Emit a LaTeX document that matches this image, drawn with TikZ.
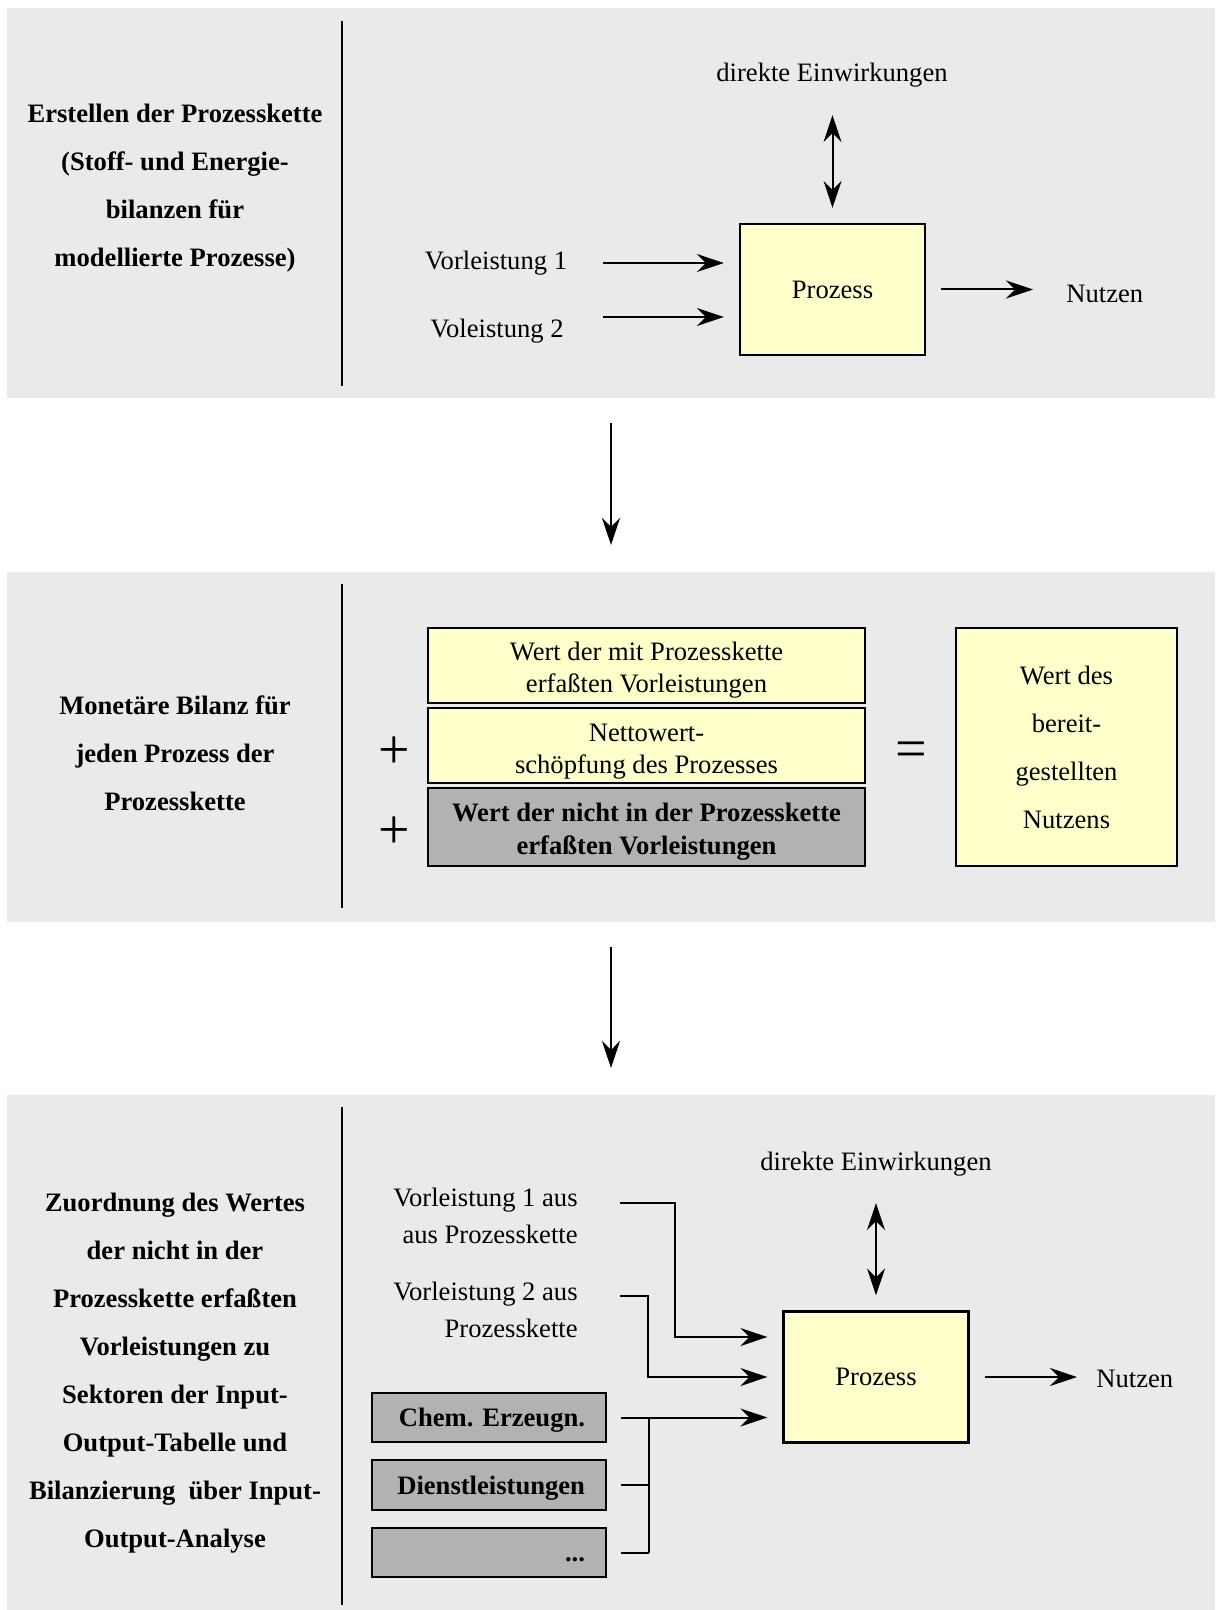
\documentclass[tikz,border=0pt]{standalone}
\usepackage{fontspec}
\setmainfont{Liberation Serif}
\usetikzlibrary{arrows.meta}
\frenchspacing
\definecolor{panelbg}{RGB}{234,234,234}
\definecolor{boxyellow}{RGB}{255,255,204}
\definecolor{boxgray}{RGB}{178,178,178}
% invisible rule that raises the first line of a box label
\newcommand\toppad[1]{\rule{0pt}{#1}}
\tikzset{
  >={Stealth[length=13.5pt,width=9pt,inset=4.5pt]},
  rule/.style={line width=1pt},
  conn/.style={line width=1pt},
  arr/.style={line width=1pt,->},
  dbl/.style={line width=1pt,<->},
  proc/.style={draw,line width=1.1pt,fill=boxyellow,minimum width=92.5pt,minimum height=65.5pt},
  stackbox/.style={draw,line width=1.1pt,minimum width=218.5pt,align=center},
  sector/.style={draw,line width=1.1pt,fill=boxgray,font=\bfseries\fontsize{13.3}{16}\selectfont,
    minimum height=24.5pt,text width=96pt,inner xsep=10.5pt,inner ysep=0pt,align=right,
    text height=10pt,text depth=1pt},
  title/.style={font=\bfseries\fontsize{13.3}{24}\selectfont,align=center},
  lbl/.style={anchor=base},
  sym/.style={font=\fontsize{28}{28}\selectfont},
}
\begin{document}
\begin{tikzpicture}[x=0.5pt,y=-0.5pt,every node/.style={inner sep=0pt,font=\fontsize{13.3}{16}\selectfont}]
\useasboundingbox (0,0) rectangle (1215,1610);
\fill[white] (0,0) rectangle (1215,1610);

% ---------- panel backgrounds and dividers
\fill[panelbg] (7,8) rectangle (1215,397.7);
\fill[panelbg] (7,571.7) rectangle (1215,921.7);
\fill[panelbg] (7,1095) rectangle (1215,1610);
\draw[rule] (342,21) -- (342,386);
\draw[rule] (342,584) -- (342,908);
\draw[rule] (342,1107) -- (342,1605);

% ---------- step 1: process chain
\node[title] (t1) at (175,188) {Erstellen der Prozesskette\\(Stoff- und Energie-\\bilanzen für\\modellierte Prozesse)};
\node[proc] (p1) at (832.5,289.5) {Prozess};
\node[lbl] (e1) at (832,82) {direkte Einwirkungen};
\node[lbl] (v11) at (496,270) {Vorleistung 1};
\node[lbl] (v12) at (497,337) {Voleistung 2};
\node[lbl,anchor=base west] (n1) at (1066,303) {Nutzen};
\coordinate (s11) at (603,263);
\coordinate (s12) at (603,317);
\draw[arr,shorten >=7.5pt] (s11) -- (s11 -| p1.west);
\draw[arr,shorten >=7.5pt] (s12) -- (s12 -| p1.west);
\draw[arr,shorten <=7.5pt,shorten >=16.5pt] (p1.east) -- (p1.east -| n1.west);
\draw[dbl,shorten <=13.5pt,shorten >=7.5pt] (p1.north |- e1.south) -- (p1.north);

% ---------- transition arrow 1
\coordinate (d1a) at (611,423);
\coordinate (d1b) at (611,545);
\draw[arr] (d1a) -- (d1b);

% ---------- step 2: monetary balance
\node[title] (t2) at (175,753) {Monetäre Bilanz für\\jeden Prozess der\\Prozesskette};
\node[stackbox,fill=boxyellow,minimum height=37.5pt] (b1) at (646.5,665.5) {\toppad{14pt}Wert der mit Prozesskette\\erfaßten Vorleistungen};
\node[stackbox,fill=boxyellow,minimum height=37.5pt] (b2) at (646.5,745.5) {\toppad{14.8pt}Nettowert-\\schöpfung des Prozesses};
\node[stackbox,fill=boxgray,minimum height=39pt,font=\bfseries\fontsize{13.3}{16.5}\selectfont] (b3) at (646.5,827) {\toppad{13.5pt}Wert der nicht in der Prozesskette\\erfaßten Vorleistungen};
\node[draw,line width=1.1pt,fill=boxyellow,minimum width=110.5pt,minimum height=119pt,align=center,
  font=\fontsize{13.3}{24}\selectfont] (r2) at (1066.5,747) {Wert des\\bereit-\\gestellten\\Nutzens};
\node[sym] (plus1) at (394,753) {+};
\node[sym] (plus2) at (394,833) {+};
\node[sym] (eq) at (911,755) {=};

% ---------- transition arrow 2
\coordinate (d2a) at (611,947);
\coordinate (d2b) at (611,1068);
\draw[arr] (d2a) -- (d2b);

% ---------- step 3: input-output allocation
\node[title] (t3) at (175,1373) {Zuordnung des Wertes\\der nicht in der\\Prozesskette erfaßten\\Vorleistungen zu\\Sektoren der Input-\\Output-Tabelle und\\Bilanzierung~ über Input-\\Output-Analyse};
\node[proc] (p3) at (876,1377) {Prozess};
\node[lbl] (e3) at (876,1170) {direkte Einwirkungen};
\node[lbl,anchor=base west] (n3) at (1096,1387) {Nutzen};
\node[anchor=east,align=right,font=\fontsize{13.3}{18.75}\selectfont] (v31) at (578,1216) {Vorleistung 1 aus\\aus Prozesskette};
\node[anchor=east,align=right,font=\fontsize{13.3}{18.75}\selectfont] (v32) at (578,1310) {Vorleistung 2 aus\\Prozesskette};
\node[sector] (g1) at (489,1417.5) {Chem. Erzeugn.};
\node[sector,minimum height=25pt] (g2) at (489,1485) {Dienstleistungen};
\node[sector] (g3) at (489,1552.5) {...};

\coordinate (c31) at (620,1203);
\coordinate (j31) at (675,1203);
\coordinate (c32) at (620,1296);
\coordinate (j32) at (648,1296);
\coordinate (c33) at ([xshift=7pt]g1.east);
\coordinate (j33) at ([xshift=21pt]g1.east);
\coordinate (c34) at ([xshift=7pt]g2.east);
\coordinate (j34) at ([xshift=21pt]g2.east);
\coordinate (c35) at ([xshift=7pt]g3.east);
\coordinate (j35) at ([xshift=21pt]g3.east);

\draw[arr,shorten >=7.5pt] (c31) -- (j31) |- ([yshift=20pt]p3.west);
\draw[arr,shorten >=7.5pt] (c32) -- (j32) |- (p3.west);
\draw[arr,shorten >=7.5pt] (c33) -- (c33 -| p3.west);
\draw[conn] (j33) -- (j35);
\draw[conn] (c34) -- (j34);
\draw[conn] (c35) -- (j35);
\draw[arr,shorten <=7.5pt,shorten >=9.5pt] (p3.east) -- (p3.east -| n3.west);
\draw[dbl,shorten <=13.5pt,shorten >=7.5pt] (p3.north |- e3.south) -- (p3.north);
\end{tikzpicture}
\end{document}
